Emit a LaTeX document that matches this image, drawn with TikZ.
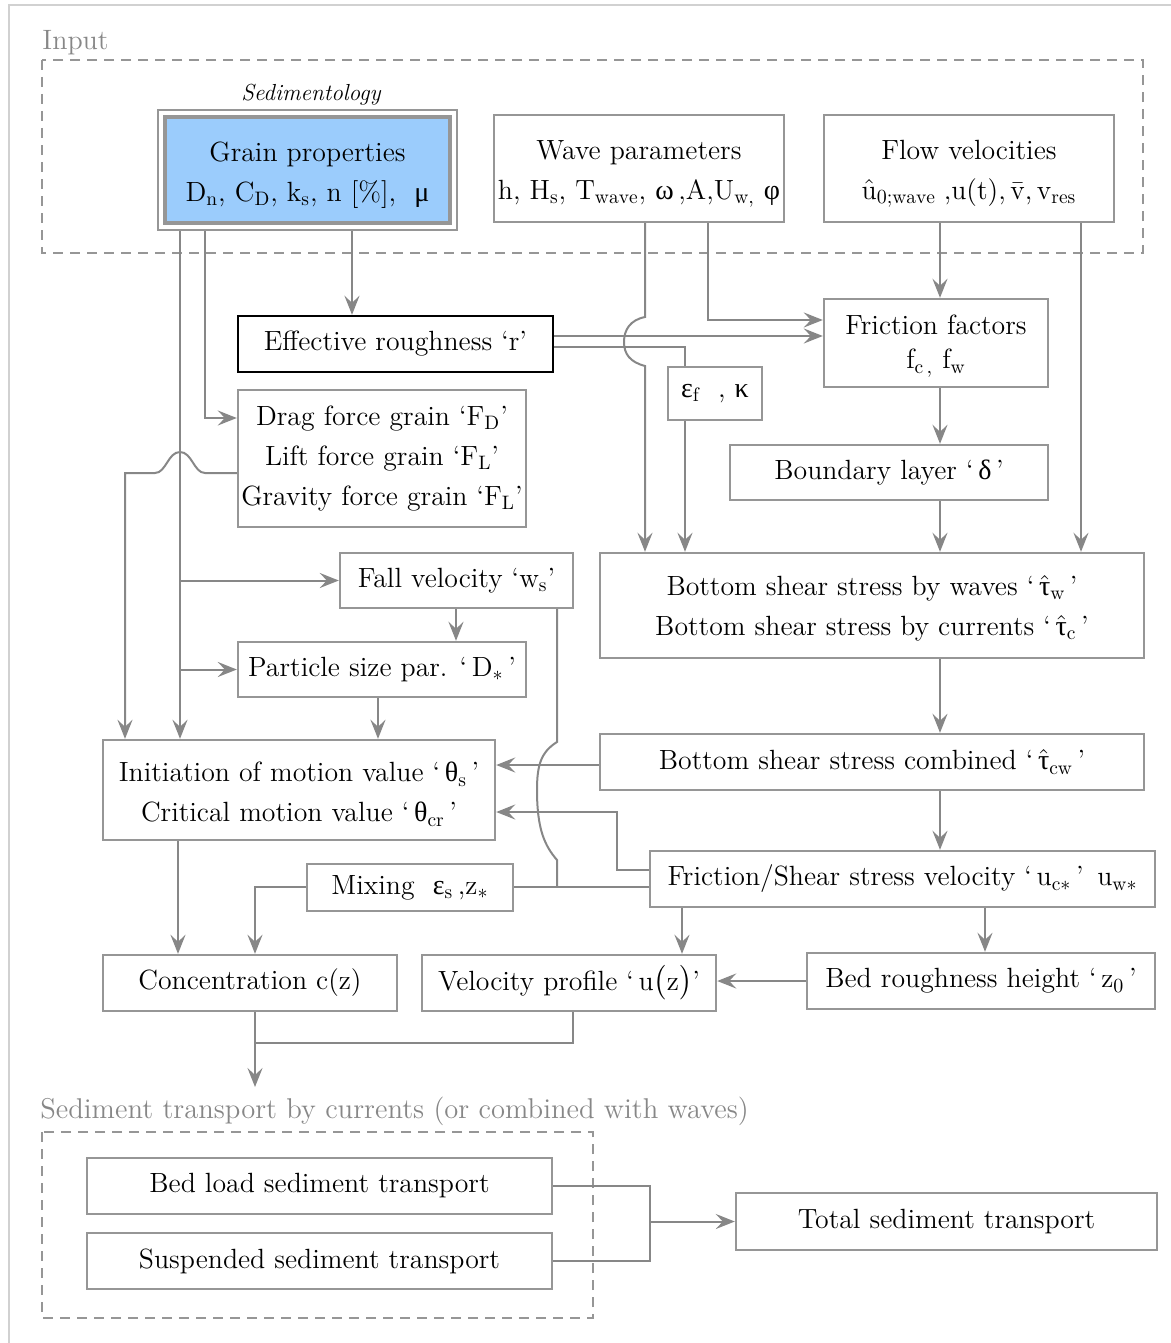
\documentclass[tikz,border=0pt]{standalone}
\usepackage{amsmath}
\usepackage{fontspec}
\newfontfamily\gr{Liberation Serif}
\usetikzlibrary{arrows.meta}
\definecolor{lc}{RGB}{135,135,135}
\definecolor{bc}{RGB}{150,150,150}
\definecolor{gb}{RGB}{155,204,252}
\tikzset{
 box/.style={draw=bc, line width=1.2pt, inner sep=0pt, align=center, font=\fontsize{13.9}{20}\selectfont},
 ln/.style={draw=lc, line width=1pt},
 arr/.style={ln, -{Stealth[length=9.5pt,width=7.5pt,inset=3.5pt]}},
 lbl/.style={text=lc, font=\fontsize{14}{16}\selectfont, anchor=base west, inner sep=0pt},
 dbox/.style={draw=bc, line width=1.2pt, dash pattern=on 5pt off 3.5pt}
}
\newcommand{\gl}[1]{{\gr\fontsize{14}{20}\selectfont #1}}
\newcommand{\hattau}{\hat{\text{\gl{τ}}}}
\newcommand{\up}[1]{\rule{0pt}{#1}}
\begin{document}
\begin{tikzpicture}[x=0.5pt,y=-0.5pt]
\useasboundingbox (0,0) rectangle (1171,1343);
\draw[draw=black!18, line width=0.8pt] (9,1343) -- (9,5) -- (1171,5);
% input region
\node[lbl] (inlbl) at (42,50) {Input};
\draw[dbox] (42,60) rectangle (1143,253);
\node[font=\fontsize{11.6}{13}\selectfont\itshape, inner sep=0pt] (sedl) at (311,95) {Sedimentology};
\node[draw=bc, line width=1pt, minimum width=149.5pt, minimum height=60pt, inner sep=0pt] (grainout) at (307.5,170) {};
\node[box, fill=gb, line width=1.8pt, minimum width=142.5pt, minimum height=53pt] (grain) at (307.5,170)
 {\up{15pt}Grain properties\\ D$_{\mathrm{n}}$, C$_{\mathrm{D}}$, k$_{\mathrm{s}}$, n [\%], \ \gl{μ}};
\node[box, minimum width=145pt, minimum height=53.5pt] (wave) at (639,168.5)
 {\up{15pt}Wave parameters\\ h, H$_{\mathrm{s}}$, T$_{\mathrm{wave}}$, \gl{ω}\,,A,U$_{\mathrm{w,}}$ \gl{φ}};
\node[box, minimum width=145pt, minimum height=53.5pt] (flow) at (969,168.5)
 {\up{15pt}Flow velocities\\ $\hat{\mathrm{u}}_{0;\mathrm{wave}}$\;,u(t),\,$\bar{\mathrm{v}}$,\,v$_{\mathrm{res}}$};
% middle
\node[box, draw=black, minimum width=157.5pt, minimum height=28pt] (effr) at (395.5,344) {Effective roughness `r'};
\node[box, font=\fontsize{13.9}{17}\selectfont, minimum width=112pt, minimum height=44pt] (fric) at (936,343) {\up{13pt}Friction factors\\ f$_{\mathrm{c}\,,}$ f$_{\mathrm{w}}$};
\node[box, minimum width=47pt, minimum height=26.5pt] (eps) at (715,393.5) {$\text{\gl{ε}}_{\mathrm{f}}$ \ , \gl{κ}};
\node[box, minimum width=144pt, minimum height=68.5pt] (drag) at (382,458.5)
 {Drag force grain `F$_{\mathrm{D}}$'\\ Lift force grain `F$_{\mathrm{L}}$'\\ Gravity force grain `F$_{\mathrm{L}}$'};
\node[box, minimum width=159pt, minimum height=27.5pt] (bl) at (889,472.5) {Boundary layer `\,\gl{δ}\,'};
\node[box, minimum width=116.5pt, minimum height=27.5pt] (fall) at (456.5,580.5) {Fall velocity `w$_{\mathrm{s}}$'};
\node[box, minimum width=272pt, minimum height=52.5pt] (bss) at (872,605.5)
 {\up{13pt}Bottom shear stress by waves `\,$\hattau_{\mathrm{w}}$\,'\\ Bottom shear stress by currents `\,$\hattau_{\mathrm{c}}$\,'};
\node[box, minimum width=144pt, minimum height=27.5pt] (psize) at (382,669.5) {Particle size par. `\,D$_{*}$\,'};
\node[box, minimum width=196pt, minimum height=50pt] (init) at (299,790)
 {\up{14pt}Initiation of motion value `\,$\text{\gl{θ}}_{\mathrm{s}}$\,'\\ Critical motion value `\,$\text{\gl{θ}}_{\mathrm{cr}}$\,'};
\node[box, minimum width=272pt, minimum height=28pt] (bssc) at (872,762) {Bottom shear stress combined `\,$\hattau_{\mathrm{cw}}$\,'};
\node[box, minimum width=252.5pt, minimum height=28pt] (fsv) at (902.5,879) {Friction/Shear stress velocity `\,u$_{\mathrm{c}*}$\,' \,u$_{\mathrm{w}*}$};
\node[box, minimum width=103pt, minimum height=23.5pt] (mix) at (410,887.5) {Mixing \ $\text{\gl{ε}}_{\mathrm{s}}$\,,z$_{*}$};
\node[box, minimum width=147pt, minimum height=28pt] (conc) at (250,983) {Concentration c(z)};
\node[box, minimum width=147pt, minimum height=28pt] (vel) at (569,983) {Velocity profile `\,u$\big($z$\big)$'};
\node[box, minimum width=174pt, minimum height=28pt] (bed) at (981,981) {Bed roughness height `\,z$_{0}$\,'};
% output region
\node[lbl, font=\fontsize{14.3}{16}\selectfont] (stlbl) at (40,1118) {Sediment transport by currents (or combined with waves)};
\draw[dbox] (42,1132) rectangle (593,1318);
\node[box, minimum width=232.5pt, minimum height=28pt] (bload) at (319.5,1186) {Bed load sediment transport};
\node[box, minimum width=232.5pt, minimum height=28pt] (susp) at (319.5,1261) {Suspended sediment transport};
\node[box, minimum width=210.5pt, minimum height=28.5pt] (total) at (946.5,1221.5) {Total sediment transport};
% connectors from grain
\draw[arr] (352,0 |- grainout.south) -- (352,0 |- effr.north);
\draw[arr] (205,0 |- grainout.south) -- (205,418) -- (drag.west |- 0,418);
\draw[arr] (180,0 |- grainout.south) -- (180,0 |- init.north);
\draw[arr] (180,0 |- fall.west) -- (fall.west);
\draw[arr] (180,0 |- psize.west) -- (psize.west);
\draw[arr] (drag.west |- 0,473) -- (205,473) .. controls (194,473) and (192,452) .. (180,452)
 .. controls (168,452) and (166,473) .. (155,473) -- (125,473) -- (125,0 |- init.north);
% wave
\draw[arr] (708,0 |- wave.south) -- (708,320) -- (fric.west |- 0,320);
\draw[arr] (645,0 |- wave.south) -- (645,317) .. controls (630,320) and (624,330) .. (624,342)
 .. controls (624,354) and (630,362) .. (645,366) -- (645,0 |- bss.north);
% effective roughness
\draw[arr] (effr.east |- 0,336) -- (fric.west |- 0,336);
\draw[ln] (effr.east |- 0,347) -- (685,347) -- (685,0 |- eps.north);
\draw[arr] (685,0 |- eps.south) -- (685,0 |- bss.north);
% flow
\draw[arr] (940,0 |- flow.south) -- (940,0 |- fric.north);
\draw[arr] (1081,0 |- flow.south) -- (1081,0 |- bss.north);
\draw[arr] (940,0 |- fric.south) -- (940,0 |- bl.north);
\draw[arr] (940,0 |- bl.south) -- (940,0 |- bss.north);
\draw[arr] (940,0 |- bss.south) -- (940,0 |- bssc.north);
\draw[arr] (940,0 |- bssc.south) -- (940,0 |- fsv.north);
% fall / particle
\draw[arr] (456,0 |- fall.south) -- (456,0 |- psize.north);
\draw[arr] (378,0 |- psize.south) -- (378,0 |- init.north);
% into initiation
\draw[arr] (bssc.west |- 0,765) -- (init.east |- 0,765);
\draw[arr] (fsv.west |- 0,870) -- (617,870) -- (617,812) -- (init.east |- 0,812);
% fall velocity to mixing with hop
\draw[ln] (557,0 |- fall.south) -- (557,742) .. controls (541,752) and (537,765) .. (537,790)
 .. controls (537,830) and (545,846) .. (557,860) -- (557,887);
\draw[ln] (fsv.west |- 0,887) -- (mix.east |- 0,887);
\draw[arr] (mix.west |- 0,887) -- (255,887) -- (255,0 |- conc.north);
\draw[arr] (178,0 |- init.south) -- (178,0 |- conc.north);
% fsv outputs
\draw[arr] (682,0 |- fsv.south) -- (682,0 |- vel.north);
\draw[arr] (985,0 |- fsv.south) -- (985,0 |- bed.north);
\draw[arr] (bed.west) -- (vel.east |- bed.west);
% to transport
\coordinate (jn) at (255,1043);
\draw[ln] (255,0 |- conc.south) -- (jn);
\draw[ln] (573,0 |- vel.south) -- (573,1043) -- (jn);
\draw[arr] (jn) -- (255,1087);
\draw[ln] (bload.east) -- (650,0 |- bload.east) -- (650,0 |- susp.east) -- (susp.east);
\draw[arr] (650,0 |- total.west) -- (total.west);
\end{tikzpicture}
\end{document}
